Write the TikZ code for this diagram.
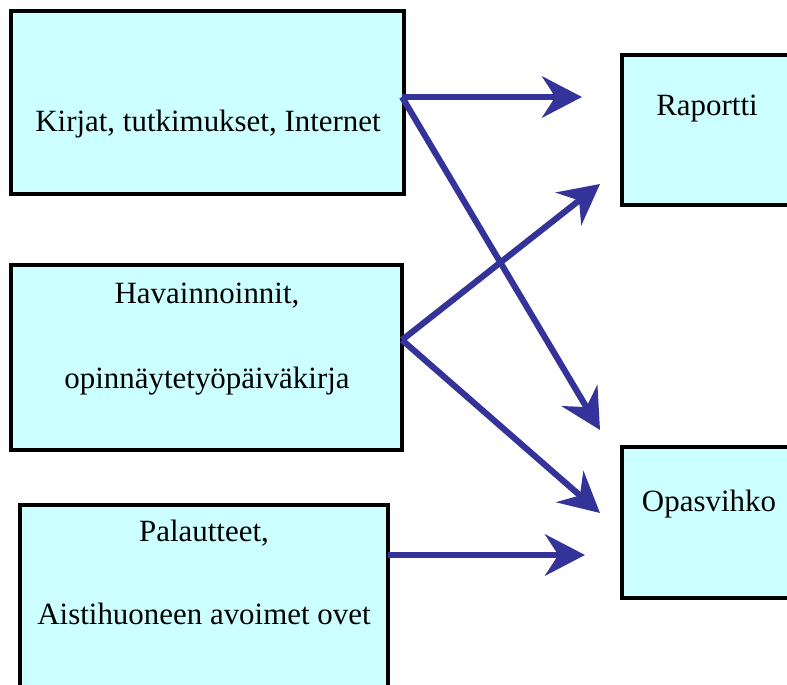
\documentclass[tikz,border=0pt]{standalone}
\usepackage{fontspec}
\setmainfont{Liberation Serif}
\usetikzlibrary{arrows.meta,calc}
\definecolor{boxfill}{HTML}{CCFFFF}
\definecolor{arrowblue}{HTML}{333399}
\begin{document}
\begin{tikzpicture}[x=0.75pt,y=-0.75pt,
  box/.style={draw=black,line width=3pt,fill=boxfill,inner sep=0pt,outer sep=0pt,rectangle},
  label/.style={anchor=base,inner sep=0pt,font=\fontsize{23.2}{27}\selectfont},
  arr/.style={draw=arrowblue,line width=4.6pt,-{Stealth[length=30pt,width=31pt,inset=10pt]}}]
\useasboundingbox (0,0) rectangle (787,684);
\clip (0,0) rectangle (787,684);
% boxes
\node[box,minimum width=393*0.75pt,minimum height=183*0.75pt] (b1) at (207.5,102.5) {};
\node[box,minimum width=391*0.75pt,minimum height=185*0.75pt] (b2) at (206.5,357.5) {};
\node[box,minimum width=368*0.75pt,minimum height=190*0.75pt] (b3) at (204,600) {};
\node[box,minimum width=172*0.75pt,minimum height=150*0.75pt] (r) at (708,130) {};
\node[box,minimum width=172*0.75pt,minimum height=151*0.75pt] (o) at (708,522.5) {};
% texts
\node[label] (t1) at (208,132) {Kirjat, tutkimukset, Internet};
\node[label] (t2a) at (207,303) {Havainnoinnit,};
\node[label] (t2b) at (207,388) {opinnäytetyöpäiväkirja};
\node[label] (t3a) at (204,541) {Palautteet,};
\node[label] (t3b) at (204,624) {Aistihuoneen avoimet ovet};
\node[label] (tr) at (707,116) {Raportti};
\node[label] (to) at (709,511) {Opasvihko};
% connector ends
\coordinate (s1) at ($(b1.east)+(-2,-5.5)$);
\coordinate (s2) at ($(b2.east)+(0,-17.5)$);
\coordinate (s3) at ($(b3.east)+(0,-45)$);
\coordinate (e1) at ($(r.west)+(-40,-33)$);
\coordinate (e2) at ($(r.west)+(-22,54)$);
\coordinate (e3) at ($(o.west)+(-22,-92.5)$);
\coordinate (e4) at ($(o.west)+(-22,-9.5)$);
\coordinate (e5) at ($(o.west)+(-37,32.5)$);
% arrows
\draw[arr] (s1) -- (e1);
\draw[arr] (s1) -- (e3);
\draw[arr] (s2) -- (e2);
\draw[arr] (s2) -- (e4);
\draw[arr] (s3) -- (e5);
\end{tikzpicture}
\end{document}
